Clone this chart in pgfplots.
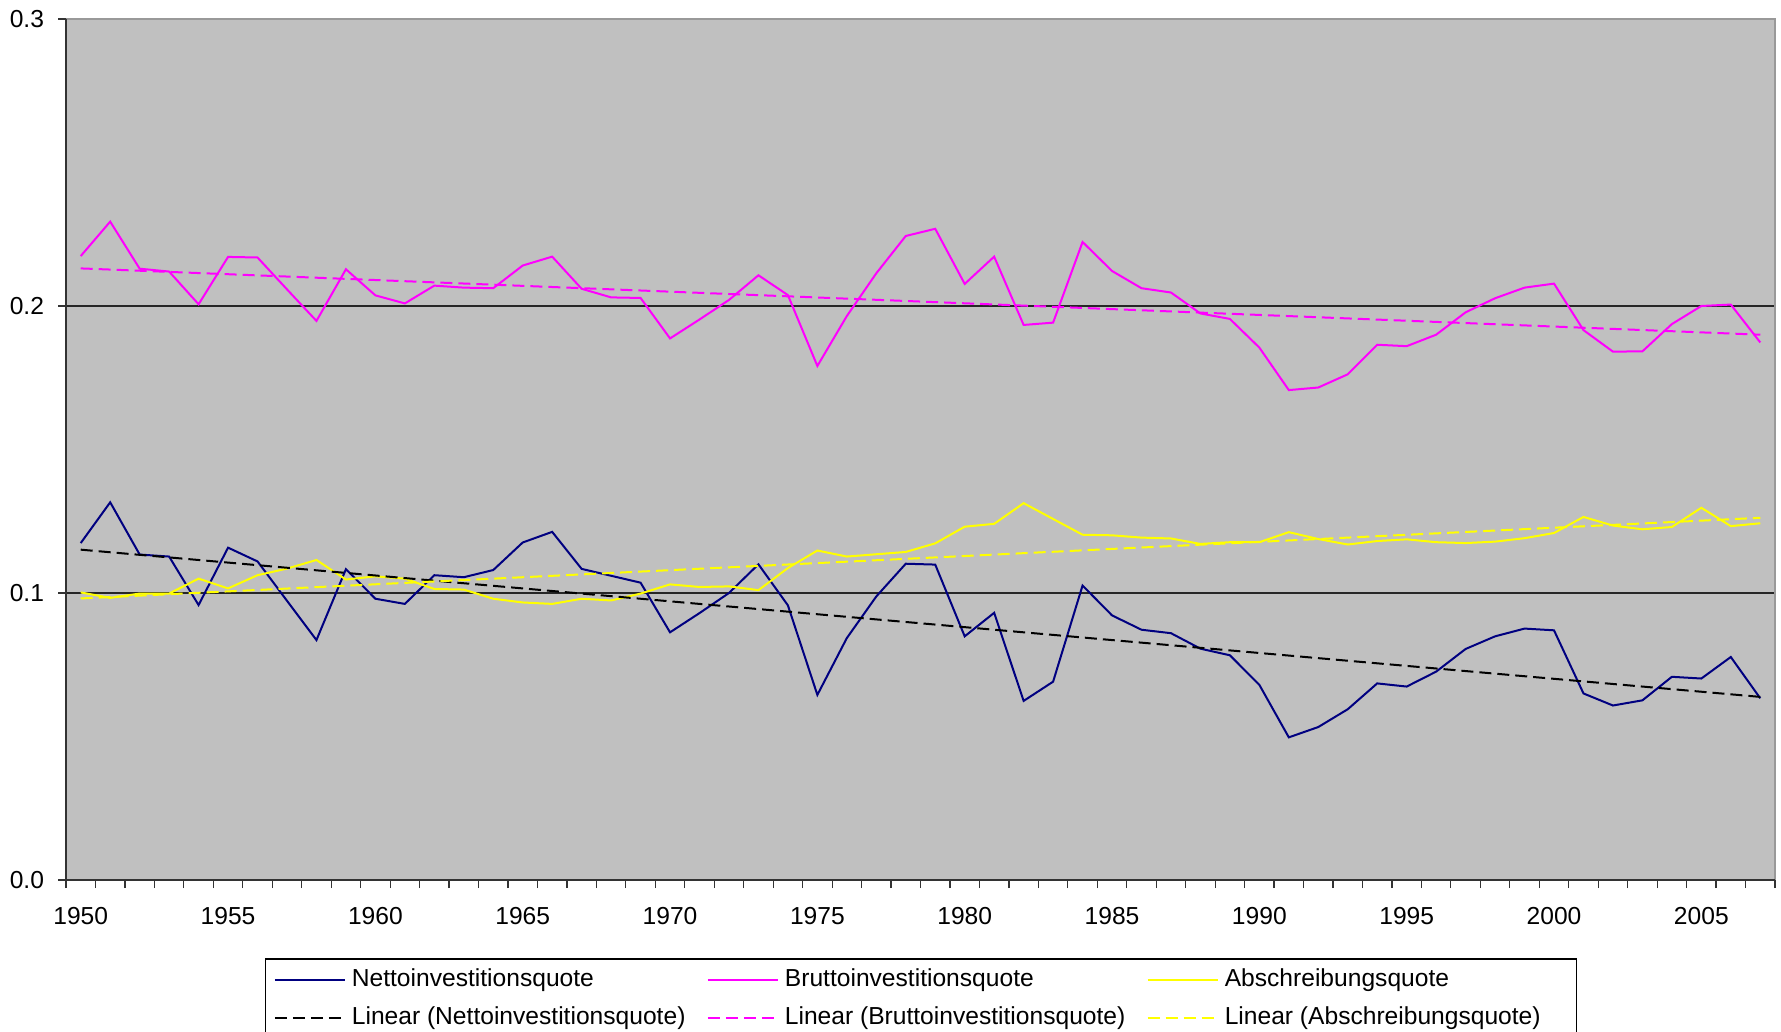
\documentclass[border=0pt]{standalone}
\usepackage{fontspec}
\setmainfont{Liberation Sans}
\usepackage{pgfplots}
\usepackage{pgfplotstable}
\pgfplotsset{compat=1.18}

\definecolor{plotbg}{HTML}{C0C0C0}
\definecolor{netto}{HTML}{000080}
\definecolor{brutto}{HTML}{FF00FF}
\definecolor{abschr}{HTML}{FFFF00}

% Investitions- und Abschreibungsquoten, 1950-2007
\pgfplotstableread{
year netto brutto abschr
1950 0.1174 0.2174 0.1002
1951 0.1316 0.2294 0.0983
1952 0.1134 0.2130 0.0998
1953 0.1127 0.2120 0.0998
1954 0.0958 0.2006 0.1050
1955 0.1158 0.2171 0.1016
1956 0.1110 0.2169 0.1062
1957 0.0973 0.2058 0.1085
1958 0.0836 0.1948 0.1115
1959 0.1083 0.2128 0.1047
1960 0.0980 0.2037 0.1058
1961 0.0962 0.2009 0.1050
1962 0.1062 0.2071 0.1014
1963 0.1055 0.2064 0.1012
1964 0.1080 0.2062 0.0980
1965 0.1176 0.2141 0.0967
1966 0.1213 0.2172 0.0962
1967 0.1084 0.2060 0.0980
1968 0.1060 0.2030 0.0974
1969 0.1036 0.2028 0.0998
1970 0.0863 0.1887 0.1030
1971 0.0930 0.1953 0.1021
1972 0.1000 0.2021 0.1023
1973 0.1100 0.2107 0.1010
1974 0.0957 0.2038 0.1087
1975 0.0645 0.1791 0.1148
1976 0.0843 0.1965 0.1127
1977 0.0988 0.2114 0.1135
1978 0.1102 0.2244 0.1143
1979 0.1099 0.2269 0.1173
1980 0.0849 0.2077 0.1231
1981 0.0931 0.2172 0.1241
1982 0.0624 0.1934 0.1313
1983 0.0691 0.1942 0.1258
1984 0.1026 0.2223 0.1203
1985 0.0922 0.2122 0.1201
1986 0.0872 0.2062 0.1193
1987 0.0860 0.2047 0.1190
1988 0.0806 0.1974 0.1171
1989 0.0783 0.1955 0.1177
1990 0.0680 0.1855 0.1177
1991 0.0497 0.1707 0.1212
1992 0.0533 0.1716 0.1188
1993 0.0595 0.1762 0.1169
1994 0.0685 0.1865 0.1181
1995 0.0674 0.1860 0.1187
1996 0.0726 0.1900 0.1177
1997 0.0805 0.1978 0.1174
1998 0.0849 0.2027 0.1179
1999 0.0876 0.2064 0.1191
2000 0.0870 0.2078 0.1209
2001 0.0650 0.1916 0.1265
2002 0.0608 0.1841 0.1235
2003 0.0626 0.1842 0.1222
2004 0.0708 0.1937 0.1230
2005 0.0702 0.2000 0.1297
2006 0.0777 0.2005 0.1233
2007 0.0633 0.1873 0.1243
}\quoten

% Lineare Trends (Endpunkte)
\pgfplotstableread{
year netto brutto abschr
1950 0.1151 0.2131 0.0981
2007 0.0638 0.1900 0.1262
}\trends

\begin{document}
\begin{tikzpicture}
\path[use as bounding box] (-33bp,-76bp) rectangle (857.5bp,440bp);
\begin{axis}[
  at={(0,0)}, anchor=south west,
  scale only axis, width=854.5bp, height=430.5bp,
  xmin=1949.5, xmax=2007.5, ymin=0, ymax=0.3,
  axis background/.style={fill=plotbg},
  axis line style={draw=none},
  tick align=outside, tick pos=left,
  major tick length=4bp,
  tick style={black!80, line width=0.6bp},
  xtick={1949.5,1950.5,...,2007.5},
  x tick label as interval,
  xticklabels={1950,,,,,1955,,,,,1960,,,,,1965,,,,,1970,,,,,1975,,,,,1980,,,,,1985,,,,,1990,,,,,1995,,,,,2000,,,,,2005,,},
  ytick={0,0.1,0.2,0.3},
  yticklabels={0.0,0.1,0.2,0.3},
  ymajorgrids,
  major grid style={black!85, line width=0.6bp},
  tick label style={font=\fontsize{12.3bp}{14bp}\selectfont, inner sep=0pt},
  xticklabel shift=9.7bp,
  yticklabel shift=6.8bp,
  legend columns=3,
  legend cell align=left,
  legend image code/.code={\draw[#1, line width=1.1bp] (0bp,0bp) -- (35bp,0bp);},
  legend style={
    at={(0.1164,-0.0906)}, anchor=north west,
    draw=black, line width=0.75bp, fill=white,
    inner xsep=4bp, inner ysep=1bp,
    font=\fontsize{12.3bp}{14bp}\selectfont,
    nodes={inner xsep=3bp, inner ysep=3.5bp, text height=9.5bp, text depth=2.5bp},
    /tikz/every even column/.append style={column sep=7.6bp},
    row sep=0pt,
  },
  after end axis/.code={
    \draw[black!40, line width=1bp] (rel axis cs:0,1) -- (rel axis cs:1,1) -- (rel axis cs:1,0);
    \draw[black!80, line width=1bp] (rel axis cs:0,1) -- (rel axis cs:0,0) -- (rel axis cs:1,0);
  },
]
\addplot[netto, line width=1bp] table[x=year, y=netto] {\quoten};
\addlegendentry{Nettoinvestitionsquote}
\addplot[brutto, line width=1bp] table[x=year, y=brutto] {\quoten};
\addlegendentry{Bruttoinvestitionsquote}
\addplot[abschr, line width=1bp] table[x=year, y=abschr] {\quoten};
\addlegendentry{Abschreibungsquote}
\addplot[black, line width=1bp, dash pattern=on 6bp off 3bp] table[x=year, y=netto] {\trends};
\addlegendentry{Linear (Nettoinvestitionsquote)}
\addplot[brutto, line width=1bp, dash pattern=on 6bp off 3bp] table[x=year, y=brutto] {\trends};
\addlegendentry{Linear (Bruttoinvestitionsquote)}
\addplot[abschr, line width=1bp, dash pattern=on 6bp off 3bp] table[x=year, y=abschr] {\trends};
\addlegendentry{Linear (Abschreibungsquote)\hspace*{11bp}}
\end{axis}
\end{tikzpicture}
\end{document}
